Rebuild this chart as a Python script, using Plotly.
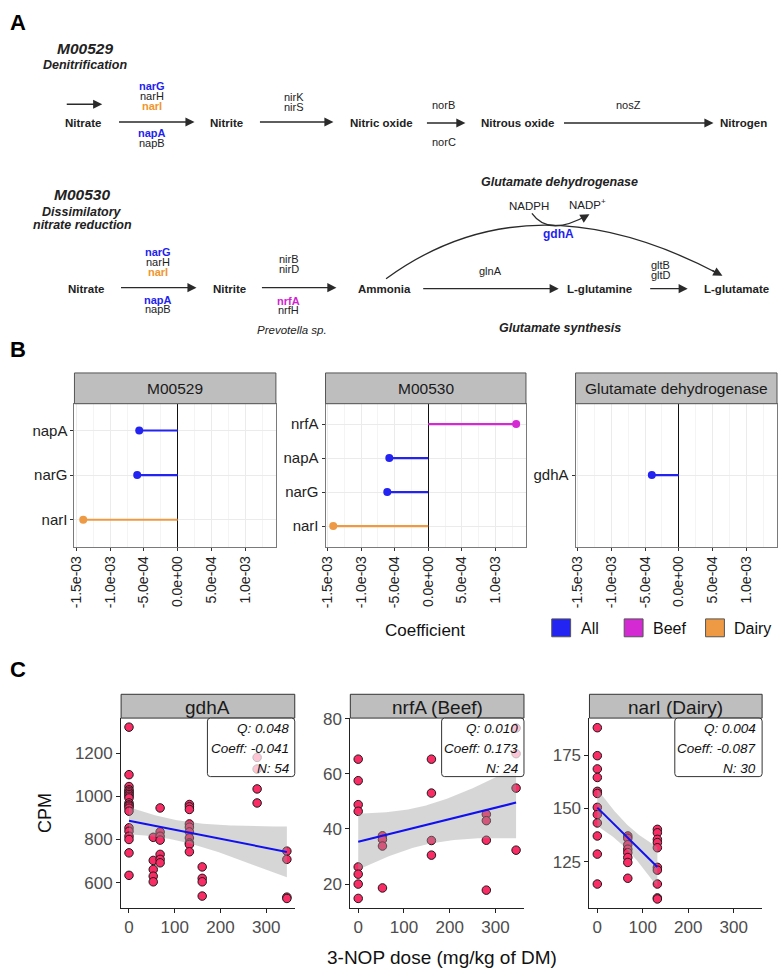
import numpy as np
import plotly.graph_objects as go

W, H = 778, 969
FONT = "Liberation Sans, Arial, sans-serif"

# ---------------- Panel B data ----------------
b_facets = ["M00529", "M00530", "Glutamate dehydrogenase"]
b_m00529_genes = ["napA", "narG", "narI"]
b_m00529_coef = [-5.7e-4, -6.0e-4, -1.40e-3]
b_m00529_group = ["All", "All", "Dairy"]
b_m00530_genes = ["nrfA", "napA", "narG", "narI"]
b_m00530_coef = [1.31e-3, -5.8e-4, -6.1e-4, -1.415e-3]
b_m00530_group = ["Beef", "All", "All", "Dairy"]
b_gdh_genes = ["gdhA"]
b_gdh_coef = [-4.0e-4]
b_gdh_group = ["All"]
b_ticks = [-1.5e-3, -1.0e-3, -5.0e-4, 0.0, 5.0e-4, 1.0e-3]
b_ticktext = ["-1.5e-03", "-1.0e-03", "-5.0e-04", "0.0e+00", "5.0e-04", "1.0e-03"]
b_minor = [-1.25e-3, -7.5e-4, -2.5e-4, 2.5e-4, 7.5e-4, 1.25e-3]
groups = ["All", "Beef", "Dairy"]
group_colors = {"All": "#2323F2", "Beef": "#D42AD4", "Dairy": "#EE9A45"}

# ---------------- Panel C data ----------------
c_titles = ["gdhA", "nrfA (Beef)", "narI (Dairy)"]
gdhA_dose = [0]*20 + [53]*5 + [68]*7 + [132]*10 + [160]*4 + [280]*4 + [345]*4
gdhA_cpm = [1320, 1100, 1045, 1030, 1023, 1015, 1008, 1000, 992, 969, 960, 954, 945, 931, 854, 838, 815, 800, 738, 634,
            810, 703, 661, 630, 604,
            946, 835, 815, 797, 731, 708, 692,
            962, 951, 939, 872, 857, 835, 807, 784, 777, 743,
            673, 620, 604, 538,
            1180, 1126, 1034, 969,
            746, 708, 533, 527]
nrfA_dose = [0]*8 + [53]*4 + [160]*4 + [280]*4 + [345]*4
nrfA_cpm = [65.3, 57.5, 48.8, 46.4, 26.2, 23.6, 20.0, 14.8,
            37.5, 36.2, 33.8, 18.6,
            65.3, 53.0, 35.8, 30.5,
            45.3, 43.0, 35.9, 17.8,
            76.6, 67.3, 54.8, 32.3]
narI_dose = [0]*12 + [67]*8 + [132]*10
narI_cpm = [187.8, 174.7, 168.5, 164.5, 158.0, 157.0, 150.5, 147.1, 143.2, 137.1, 128.6, 114.6,
            137.1, 136.0, 133.0, 130.9, 129.3, 127.0, 124.7, 117.3,
            140.2, 138.6, 135.5, 134.0, 131.6, 122.4, 121.1, 114.6, 108.1, 107.6]
c_stats = [["Q: 0.048", "Coeff: -0.041", "N: 54"],
           ["Q: 0.010", "Coeff: 0.173", "N: 24"],
           ["Q: 0.004", "Coeff: -0.087", "N: 30"]]
c_yticks = [[600, 800, 1000, 1200], [20, 40, 60, 80], [125, 150, 175]]
c_xticks = [0, 100, 200, 300]


def X(px):
    return px / W


def Y(py):
    return 1 - py / H


ann = []
shapes = []


def txt(x, y, s, size, bold=False, italic=False, color="#222222", xanchor="center", textangle=0):
    if italic:
        s = "<i>" + s + "</i>"
    if bold:
        s = "<b>" + s + "</b>"
    ann.append(dict(x=X(x), y=Y(y), xref="paper", yref="paper", text=s, showarrow=False,
                    font=dict(size=size, color=color, family=FONT), xanchor=xanchor,
                    yanchor="middle", textangle=textangle))


def arrow(x0, y0, x1, y1, color="#2a2a2a"):
    ann.append(dict(x=X(x1), y=Y(y1), xref="paper", yref="paper", text="", showarrow=True,
                    ax=x0 - x1, ay=y0 - y1, axref="pixel", ayref="pixel",
                    arrowhead=2, arrowsize=1.3, arrowwidth=1.4, arrowcolor=color, standoff=0))


def path_q(x0, y0, cx, cy, x1, y1, color="#2a2a2a", width=1.3):
    shapes.append(dict(type="path", xref="paper", yref="paper",
                       path=f"M {X(x0)},{Y(y0)} Q {X(cx)},{Y(cy)} {X(x1)},{Y(y1)}",
                       line=dict(color=color, width=width)))


BLUE = "#1F1FF0"
ORANGE = "#F0962E"
MAG = "#D21FD2"
GS = 11  # gene label size

# ---------------- Panel A ----------------
txt(12, 15, "A", 22, bold=True, color="#000")
txt(80, 41, "M00529", 15.5, bold=True, italic=True)
txt(80, 57, "Denitrification", 12.5, bold=True, italic=True)
arrow(60, 97, 97, 97)
txt(78, 116, "Nitrate", 11.5, bold=True)
txt(147, 79, "narG", GS, bold=True, color=BLUE)
txt(147, 89, "narH", GS)
txt(147, 99, "narI", GS, bold=True, color=ORANGE)
txt(147, 126, "napA", GS, bold=True, color=BLUE)
txt(147, 136, "napB", GS)
arrow(113, 115, 190, 115)
txt(222, 116, "Nitrite", 11.5, bold=True)
arrow(255, 115, 330, 115)
txt(290, 90, "nirK", GS)
txt(290, 100, "nirS", GS)
txt(378, 116, "Nitric oxide", 11.5, bold=True)
arrow(423, 116, 463, 116)
txt(441, 98, "norB", GS)
txt(441, 135, "norC", GS)
txt(515, 116, "Nitrous oxide", 11.5, bold=True)
arrow(562, 116, 713, 116)
txt(627, 98, "nosZ", GS)
txt(743, 116, "Nitrogen", 11.5, bold=True)

txt(77, 188, "M00530", 15.5, bold=True, italic=True)
txt(77, 206, "Dissimilatory", 12.5, bold=True, italic=True)
txt(77, 219, "nitrate reduction", 12.5, bold=True, italic=True)
txt(81, 283, "Nitrate", 11.5, bold=True)
arrow(115, 282, 192, 282)
txt(153, 246, "narG", GS, bold=True, color=BLUE)
txt(153, 256, "narH", GS)
txt(153, 266, "narI", GS, bold=True, color=ORANGE)
txt(153, 294, "napA", GS, bold=True, color=BLUE)
txt(153, 304, "napB", GS)
txt(225, 283, "Nitrite", 11.5, bold=True)
arrow(257, 282, 333, 282)
txt(285, 253, "nirB", GS)
txt(285, 263, "nirD", GS)
txt(285, 295, "nrfA", GS, bold=True, color=MAG)
txt(285, 305, "nrfH", GS)
txt(288, 325, "Prevotella sp.", 11.5, italic=True)
txt(381, 283, "Ammonia", 11.5, bold=True)
txt(558, 175, "Glutamate dehydrogenase", 12.5, bold=True, italic=True)
txt(527, 200, "NADPH", 11.5)
txt(586, 198, "NADP<sup>+</sup>", 11.5)
# gdhA arc
path_q(383, 273, 528, 167, 720, 269)
arrow(720 - 0.883 * 11, 269 - 0.469 * 11, 722, 270)
path_q(530, 207, 547, 231, 586, 209)
arrow(588 - 0.872 * 9, 208 + 0.489 * 9, 588, 208)
txt(557, 228, "gdhA", 12, bold=True, color=BLUE)
txt(488, 265, "glnA", GS)
arrow(420, 283, 557, 283)
txt(598, 283, "L-glutamine", 11.5, bold=True)
arrow(648, 283, 687, 283)
txt(660, 259, "gltB", GS)
txt(660, 269, "gltD", GS)
txt(736, 283, "L-glutamate", 11.5, bold=True)
txt(558, 323, "Glutamate synthesis", 12.5, bold=True, italic=True)

# ---------------- Panel B ----------------
fig = go.Figure()
txt(12, 344, "B", 22, bold=True, color="#000")
b_x = [(69, 272), (322, 524), (574, 777)]
b_top, b_bot, strip_top = 399, 543, 368
b_sets = [(b_m00529_genes, b_m00529_coef, b_m00529_group),
          (b_m00530_genes, b_m00530_coef, b_m00530_group),
          (b_gdh_genes, b_gdh_coef, b_gdh_group)]
layout_axes = {}
for i, ((l, r), (genes, coefs, grps)) in enumerate(zip(b_x, b_sets)):
    k = i + 1
    xa = "x" if k == 1 else f"x{k}"
    ya = "y" if k == 1 else f"y{k}"
    for g, v, gr in zip(genes, coefs, grps):
        fig.add_trace(go.Scatter(x=[0, v], y=[g, g], mode="lines", xaxis=xa, yaxis=ya,
                                 line=dict(color=group_colors[gr], width=2.2), showlegend=False,
                                 hoverinfo="skip"))
    fig.add_trace(go.Scatter(x=coefs, y=genes, mode="markers", xaxis=xa, yaxis=ya,
                             marker=dict(color=[group_colors[g] for g in grps], size=8),
                             showlegend=False))
    xname = "xaxis" if k == 1 else f"xaxis{k}"
    yname = "yaxis" if k == 1 else f"yaxis{k}"
    layout_axes[xname] = dict(domain=[X(l), X(r)], range=[-1.53e-3, 1.456e-3],
                              tickvals=b_ticks, ticktext=b_ticktext, tickangle=-90,
                              tickfont=dict(size=14, color="#222", family=FONT),
                              ticks="outside", ticklen=3, tickcolor="#333",
                              showgrid=True, gridcolor="#EBEBEB", gridwidth=1,
                              minor=dict(tickvals=b_minor, showgrid=True, gridcolor="#F4F4F4",
                                         gridwidth=0.7, ticks=""),
                              zeroline=True, zerolinecolor="#111", zerolinewidth=1.2,
                              showline=True, mirror=True, linecolor="#7a7a7a", linewidth=1,
                              anchor=ya)
    layout_axes[yname] = dict(domain=[Y(b_bot), Y(b_top)], type="category",
                              categoryorder="array", categoryarray=genes[::-1],
                              range=[-0.6, len(genes) - 0.4],
                              tickfont=dict(size=15, color="#222", family=FONT),
                              ticks="outside", ticklen=3, tickcolor="#333",
                              showgrid=True, gridcolor="#EBEBEB", zeroline=False,
                              showline=True, mirror=True, linecolor="#7a7a7a", linewidth=1,
                              anchor=xa)
    shapes.append(dict(type="rect", xref="paper", yref="paper", x0=X(l), x1=X(r),
                       y0=Y(b_top), y1=Y(strip_top), fillcolor="#BEBEBE",
                       line=dict(color="#555", width=1)))
    txt((l + r) / 2, (strip_top + b_top) / 2, b_facets[i], 15.5, color="#1a1a1a")

txt(422, 628, "Coefficient", 17, color="#111")
leg_x = [550, 623, 705]
for gx, g in zip(leg_x, groups):
    shapes.append(dict(type="rect", xref="paper", yref="paper", x0=X(gx), x1=X(gx + 19),
                       y0=Y(634), y1=Y(616), fillcolor=group_colors[g],
                       line=dict(color="#555", width=1)))
    txt(gx + 27, 626, g, 16, color="#111", xanchor="left")

# ---------------- Panel C ----------------
txt(12, 667, "C", 22, bold=True, color="#000")


def tquant(df):
    z = 1.959964
    return z + (z**3 + z) / (4 * df) + (5 * z**5 + 16 * z**3 + 3 * z) / (96 * df**2)


def lm_band(x, y, npts=80):
    x = np.asarray(x, float)
    y = np.asarray(y, float)
    n = len(x)
    xb = x.mean()
    sxx = ((x - xb) ** 2).sum()
    b = ((x - xb) * (y - y.mean())).sum() / sxx
    a = y.mean() - b * xb
    s = np.sqrt(((y - a - b * x) ** 2).sum() / (n - 2))
    xs = np.linspace(x.min(), x.max(), npts)
    yh = a + b * xs
    se = s * np.sqrt(1 / n + (xs - xb) ** 2 / sxx)
    t = tquant(n - 2)
    return xs, yh, yh - t * se, yh + t * se


c_x = [(116, 291), (347, 522), (588, 762)]
c_top, c_bot, c_strip = 716, 907, 692
c_ranges = [[485, 1362], [11.5, 80.2], [103.6, 192.3]]
c_data = [(gdhA_dose, gdhA_cpm), (nrfA_dose, nrfA_cpm), (narI_dose, narI_cpm)]
for i, ((l, r), (dx, dy)) in enumerate(zip(c_x, c_data)):
    k = i + 4
    xa, ya = f"x{k}", f"y{k}"
    fig.add_trace(go.Scatter(x=dx, y=dy, mode="markers", xaxis=xa, yaxis=ya,
                             marker=dict(color="#FA2C66", size=8.5,
                                         line=dict(color="#1a1a1a", width=1)),
                             showlegend=False))
    xs, yh, lo, hi = lm_band(dx, dy)
    fig.add_trace(go.Scatter(x=np.concatenate([xs, xs[::-1]]), y=np.concatenate([hi, lo[::-1]]),
                             mode="lines", fill="toself", fillcolor="rgba(153,153,153,0.4)",
                             line=dict(width=0), xaxis=xa, yaxis=ya, showlegend=False,
                             hoverinfo="skip"))
    fig.add_trace(go.Scatter(x=xs, y=yh, mode="lines", line=dict(color="#1010F0", width=2),
                             xaxis=xa, yaxis=ya, showlegend=False))
    layout_axes[f"xaxis{k}"] = dict(domain=[X(l), X(r)], range=[-17.25, 362.25],
                                    tickvals=c_xticks, tickfont=dict(size=17, color="#4D4D4D", family=FONT),
                                    ticks="outside", ticklen=4, tickcolor="#222",
                                    showline=True, linecolor="#222", linewidth=1,
                                    showgrid=False, zeroline=False, anchor=ya)
    layout_axes[f"yaxis{k}"] = dict(domain=[Y(c_bot), Y(c_top)], range=c_ranges[i],
                                    tickvals=c_yticks[i], tickfont=dict(size=17, color="#4D4D4D", family=FONT),
                                    ticks="outside", ticklen=4, tickcolor="#222",
                                    showline=True, linecolor="#222", linewidth=1,
                                    showgrid=False, zeroline=False, anchor=xa)
    shapes.append(dict(type="rect", xref="paper", yref="paper", x0=X(l), x1=X(r),
                       y0=Y(c_top), y1=Y(c_strip), fillcolor="#BEBEBE",
                       line=dict(color="#333", width=1)))
    txt((l + r) / 2, (c_strip + c_top) / 2 + 1, c_titles[i], 19, color="#1a1a1a")
    # stats label box (rounded)
    bx0 = r - 88 if i != 1 else r - 83
    bx1, by0, by1, rr = r, c_top, 775, 3
    p = (f"M {X(bx0 + rr)},{Y(by0)} L {X(bx1 - rr)},{Y(by0)} Q {X(bx1)},{Y(by0)} {X(bx1)},{Y(by0 + rr)} "
         f"L {X(bx1)},{Y(by1 - rr)} Q {X(bx1)},{Y(by1)} {X(bx1 - rr)},{Y(by1)} "
         f"L {X(bx0 + rr)},{Y(by1)} Q {X(bx0)},{Y(by1)} {X(bx0)},{Y(by1 - rr)} "
         f"L {X(bx0)},{Y(by0 + rr)} Q {X(bx0)},{Y(by0)} {X(bx0 + rr)},{Y(by0)} Z")
    shapes.append(dict(type="path", xref="paper", yref="paper", path=p, layer="above",
                       fillcolor="rgba(255,255,255,0.72)", line=dict(color="#333", width=1)))
    for j, s in enumerate(c_stats[i]):
        txt(bx1 - 4, 727 + 20 * j, s, 13.5, italic=True, color="#111", xanchor="right")

txt(40, 812, "CPM", 18, color="#111", textangle=-90)
txt(439, 957, "3-NOP dose (mg/kg of DM)", 19, color="#111")

fig.update_layout(width=W, height=H, margin=dict(l=0, r=0, t=0, b=0),
                  paper_bgcolor="white", plot_bgcolor="white",
                  font=dict(family=FONT), annotations=ann, shapes=shapes,
                  showlegend=False, **layout_axes)
fig.write_html("out.html", config={"displayModeBar": False})
